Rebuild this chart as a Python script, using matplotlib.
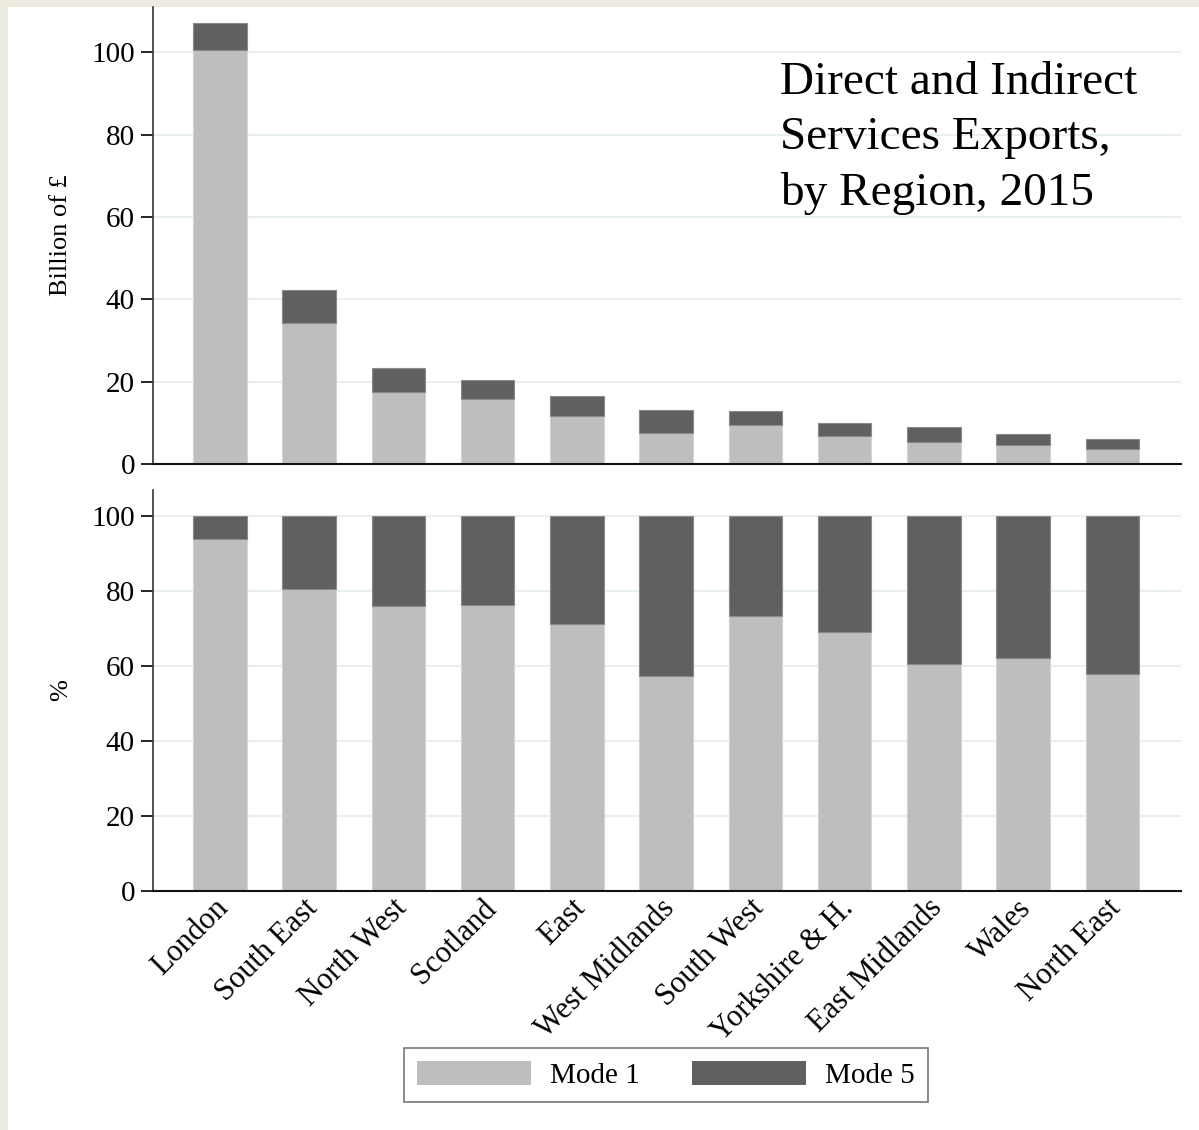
import matplotlib
matplotlib.use("Agg")
import matplotlib.pyplot as plt
from matplotlib.patches import Rectangle, Patch
import matplotlib.transforms as mtrans
import numpy as np

plt.rcParams['font.family'] = ['Liberation Serif', 'DejaVu Serif']

regions = ["London", "South East", "North West", "Scotland", "East", "West Midlands",
           "South West", "Yorkshire & H.", "East Midlands", "Wales", "North East"]
mode1_bn = [100.5, 34.2, 17.5, 15.8, 11.7, 7.5, 9.5, 6.8, 5.4, 4.6, 3.6]
mode5_bn = [6.5, 8.0, 5.8, 4.6, 4.8, 5.6, 3.4, 3.2, 3.6, 2.7, 2.5]
mode1_pct = [93.9, 80.5, 76.0, 76.3, 71.2, 57.3, 73.3, 69.1, 60.5, 62.1, 57.9]
mode5_pct = [100 - v for v in mode1_pct]
yticks = [0, 20, 40, 60, 80, 100]

c1 = "#bebebe"
c5 = "#606060"
gridc = "#e8eff2"

W, H = 1199, 1130
fig = plt.figure(figsize=(W / 100, H / 100), dpi=100, facecolor="#edebe0")
fig.patches.append(Rectangle((8 / W, 0), 1 - 8 / W, 1 - 7 / H, transform=fig.transFigure,
                             facecolor="white", edgecolor="none", zorder=-10))

x = np.arange(len(regions))
ax1 = fig.add_axes([153 / W, 1 - 464 / H, (1181 - 153) / W, (464 - 7) / H])
ax2 = fig.add_axes([153 / W, 1 - 891 / H, (1181 - 153) / W, (891 - 490) / H])

for ax, m1, m5, ylim, lab in [(ax1, mode1_bn, mode5_bn, 111, "Billion of £"),
                              (ax2, mode1_pct, mode5_pct, 107, "%")]:
    ax.set_facecolor("none")
    ax.bar(x, m1, width=0.6, color=c1, edgecolor="#d4d4d4", linewidth=0.8, zorder=2)
    ax.bar(x, m5, bottom=m1, width=0.6, color=c5, edgecolor="#8a8a8a", linewidth=0.8, zorder=2)
    ax.set_xlim(-0.75, 10.77)
    ax.set_ylim(0, ylim)
    ax.set_yticks(yticks)
    for t in yticks[1:]:
        ax.axhline(t, color=gridc, lw=1.5, zorder=1)
    ax.spines['top'].set_visible(False)
    ax.spines['right'].set_visible(False)
    ax.spines['left'].set_color("#333333")
    ax.spines['bottom'].set_color("#111111")
    ax.spines['left'].set_linewidth(1.2)
    ax.spines['bottom'].set_linewidth(1.5)
    ax.tick_params(axis='y', length=9, width=1.2, labelsize=21, pad=4)
    ax.tick_params(axis='x', length=0)
    ax.set_ylabel(lab, fontsize=19)
    ax.yaxis.set_label_coords(-0.079, 0.5)

ax1.set_xticks(x)
ax1.set_xticklabels([])
ax2.set_xticks(x)
ax2.set_xticklabels(regions, rotation=45, ha='right', rotation_mode='anchor', fontsize=22)
ax2.tick_params(axis='x', pad=2)
shift = mtrans.ScaledTranslation(-6 / 100, 0, fig.dpi_scale_trans)
for lbl in ax2.get_xticklabels():
    lbl.set_transform(lbl.get_transform() + shift)

fig.text(780 / W, 1 - 61 / H, "Direct and Indirect\nServices Exports,\nby Region, 2015",
         fontsize=34, ha='left', va='top', linespacing=1.39)

handles = [Patch(facecolor=c1, edgecolor="none", label="Mode 1"),
           Patch(facecolor=c5, edgecolor="none", label="Mode 5")]
leg = fig.legend(handles=handles, loc='center', bbox_to_anchor=(666 / W, 1 - 1075 / H),
                 ncol=2, fontsize=21, frameon=True, fancybox=False, handlelength=3.9,
                 handleheight=0.9, handletextpad=0.65, columnspacing=1.8, borderpad=0.45,
                 borderaxespad=0)
leg.get_frame().set_edgecolor("#555555")
leg.get_frame().set_linewidth(1.2)

fig.savefig("out.png", dpi=100, facecolor=fig.get_facecolor())
